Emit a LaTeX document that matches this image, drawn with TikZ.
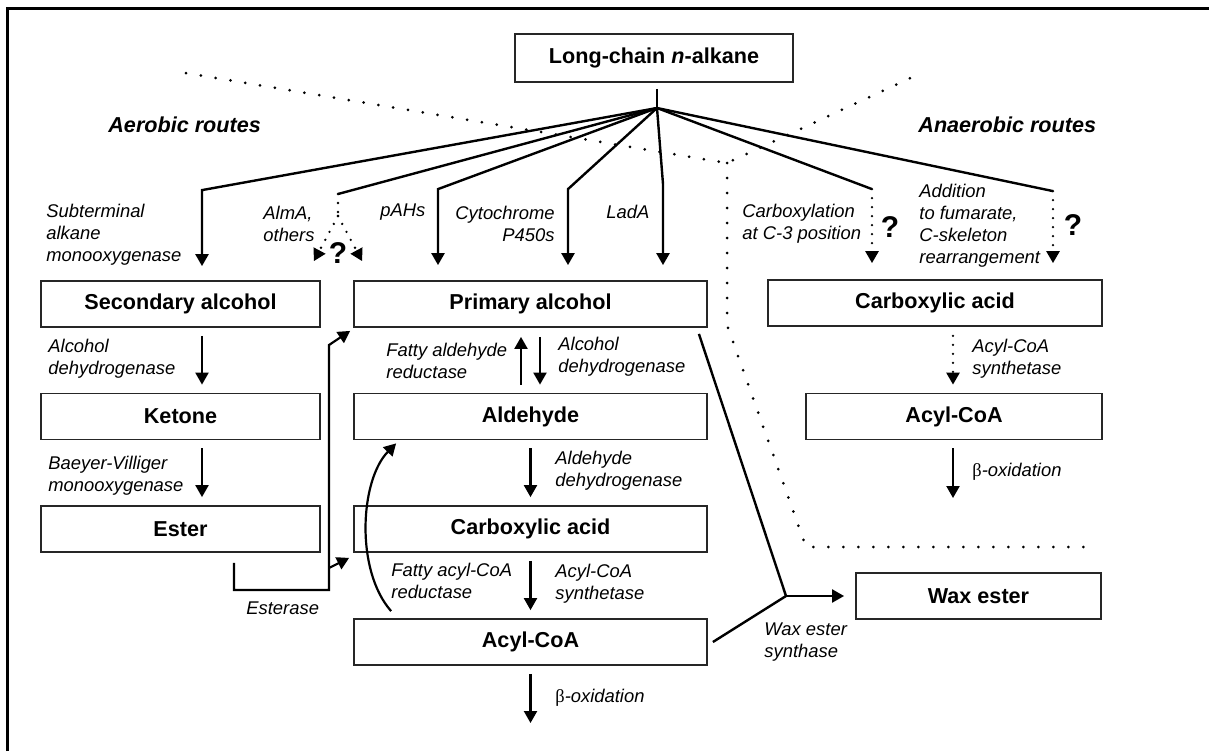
\documentclass[tikz,border=0pt]{standalone}
\usepackage{fontspec}
\setmainfont{Liberation Sans}
\newfontfamily\greekfont{Liberation Serif}
\usetikzlibrary{arrows.meta}

\tikzset{
  compound/.style={draw=black!85, line width=0.9pt, inner sep=0pt, minimum height=23pt,
    font=\bfseries\fontsize{10.8}{13}\selectfont},
  enzyme/.style={inner sep=0pt, anchor=west, align=left, font=\itshape\fontsize{9.2}{11}\selectfont},
  route/.style={inner sep=0pt, anchor=west, font=\bfseries\itshape\fontsize{10.8}{13}\selectfont},
  unknown/.style={inner sep=0pt, font=\bfseries\fontsize{15}{18}\selectfont},
  conv/.style={line width=1.1pt, -{Triangle[length=6pt,width=6.5pt]}},
  branch/.style={line width=1.2pt},
  guess/.style={line width=1.3pt, line cap=round, dash pattern=on 0pt off 4.5pt},
  divide/.style={line width=1.5pt, line cap=round, dash pattern=on 0pt off 7.5pt}
}

\begin{document}
\begin{tikzpicture}[x=0.5pt, y=-0.5pt]
  \useasboundingbox (0,0) rectangle (1209,751);
  \draw[line width=1.5pt] (7,751) -- (7,8) -- (1209,8);

  \node[compound, minimum width=139pt, minimum height=24pt] (alkane) at (654,58) {Long-chain \textit{n}-alkane};

  \node[compound, minimum width=139.5pt] (secalc) at (180.5,304) {Secondary alcohol};
  \node[compound, minimum width=139.5pt] (ketone) at (180.5,416.5) {Ketone};
  \node[compound, minimum width=139.5pt] (ester) at (180.5,529) {Ester};
  \node[compound, minimum width=176.5pt] (primalc) at (530.5,304) {Primary alcohol};
  \node[compound, minimum width=176.5pt] (aldehyde) at (530.5,416.5) {Aldehyde};
  \node[compound, minimum width=176.5pt] (carbacid) at (530.5,529) {Carboxylic acid};
  \node[compound, minimum width=176.5pt] (acylcoa) at (530.5,642) {Acyl-CoA};
  \node[compound, minimum width=122.5pt] (waxester) at (978.5,596) {Wax ester};
  \node[compound, minimum width=167pt] (carbacidR) at (935,303) {Carboxylic acid};
  \node[compound, minimum width=148pt] (acylcoaR) at (954,416.5) {Acyl-CoA};

  \node[route] (aerobic) at (108,125) {Aerobic routes};
  \node[route] (anaerobic) at (918,125) {Anaerobic routes};

  \node[enzyme] (subterm) at (46,235) {Subterminal\\alkane\\monooxygenase};
  \node[enzyme] (alma) at (263,224) {AlmA,\\others};
  \node[enzyme] (pahs) at (380,212) {pAHs};
  \node[enzyme, anchor=east, align=right] (cyp) at (555,224) {Cytochrome\\P450s};
  \node[enzyme] (lada) at (606,212) {LadA};
  \node[enzyme] (carbox) at (742,224) {Carboxylation\\at C-3 position};
  \node[enzyme] (fumarate) at (919,226) {Addition\\to fumarate,\\C-skeleton\\rearrangement};
  \node[enzyme] (adhL) at (48,359) {Alcohol\\dehydrogenase};
  \node[enzyme] (bvmo) at (48,476) {Baeyer-Villiger\\monooxygenase};
  \node[enzyme] (far) at (386,361) {Fatty aldehyde\\reductase};
  \node[enzyme] (adhM) at (558,357) {Alcohol\\dehydrogenase};
  \node[enzyme] (aldh) at (555,471) {Aldehyde\\dehydrogenase};
  \node[enzyme] (facr) at (391,581) {Fatty acyl-CoA\\reductase};
  \node[enzyme] (acsM) at (555,584) {Acyl-CoA\\synthetase};
  \node[enzyme] (betaoxM) at (555,698) {{\greekfont\upshape β}-oxidation};
  \node[enzyme] (esterase) at (246,608) {Esterase};
  \node[enzyme] (acsR) at (972,359) {Acyl-CoA\\synthetase};
  \node[enzyme] (betaoxR) at (972,472) {{\greekfont\upshape β}-oxidation};
  \node[enzyme] (wes) at (764,642) {Wax ester\\synthase};

  \node[unknown] (qalma) at (338,253) {?};
  \node[unknown] (qcarb) at (890,227) {?};
  \node[unknown] (qfum) at (1073,225) {?};

  % fan out of the alkane
  \coordinate (fan) at (657,108);
  \draw[branch] ([shift={(3,6)}]alkane.south) -- (fan);
  \draw[conv, line width=1.2pt] (fan) -- ([shift={(21.5,-90)}]secalc.north) -- ([shift={(21.5,-14)}]secalc.north);
  \draw[conv, line width=1.2pt] (fan) -- ([shift={(-92.5,-91)}]primalc.north) -- ([shift={(-92.5,-15)}]primalc.north);
  \draw[conv, line width=1.2pt] (fan) -- ([shift={(37.5,-91)}]primalc.north) -- ([shift={(37.5,-15)}]primalc.north);
  \draw[conv, line width=1.2pt] (fan) -- ([shift={(132.5,-96)}]primalc.north) -- ([shift={(132.5,-15)}]primalc.north);

  \coordinate (almA) at (338,194);
  \coordinate (almAsplit) at (338,216);
  \draw[branch] (fan) -- (almA);
  \draw[guess] (almA) -- (almAsplit);
  \draw[guess, -{Triangle[length=6pt,width=6.5pt]}] (almAsplit) -- ([shift={(-7,-19)}]secalc.north east);
  \draw[guess, -{Triangle[length=6pt,width=6.5pt]}] (almAsplit) -- ([shift={(9,-19)}]primalc.north west);

  \draw[branch] (fan) -- ([shift={(-63,-90)}]carbacidR.north) coordinate (carbtop);
  \draw[guess, -{Triangle[length=6pt,width=6.5pt]}] (carbtop) -- ([shift={(-63,-16)}]carbacidR.north);
  \draw[branch] (fan) -- ([shift={(118,-88)}]carbacidR.north) coordinate (fumtop);
  \draw[guess, -{Triangle[length=6pt,width=6.5pt]}] (fumtop) -- ([shift={(118,-16)}]carbacidR.north);

  % subterminal route
  \draw[conv] ([shift={(21.5,8)}]secalc.south) -- ([shift={(21.5,-8)}]ketone.north);
  \draw[conv] ([shift={(21.5,8)}]ketone.south) -- ([shift={(21.5,-8)}]ester.north);
  \coordinate (estjoin) at (329,568);
  \draw[conv] ([shift={(53.5,10)}]ester.south) -- ++(0,27) -| (329,345) -- ([shift={(-3,3)}]primalc.south west);
  \draw[conv] (estjoin) -- ([shift={(-4,5)}]carbacid.south west);

  % terminal route
  \draw[conv] ([shift={(-9.5,-8)}]aldehyde.north) -- ([shift={(-9.5,9)}]primalc.south);
  \draw[conv] ([shift={(9.5,9)}]primalc.south) -- ([shift={(9.5,-8)}]aldehyde.north);
  \draw[conv] ([shift={(0,8)}]aldehyde.south) -- ([shift={(0,-8)}]carbacid.north);
  \draw[conv] ([shift={(0,8)}]carbacid.south) -- ([shift={(0,-8)}]acylcoa.north);
  \coordinate (betaM) at (530.5,723);
  \draw[conv] ([shift={(0,8)}]acylcoa.south) -- (betaM);
  \draw[conv] ([shift={(38,-7)}]acylcoa.north west) .. controls (355,570) and (360,480) .. ([shift={(43,3)}]aldehyde.south west);

  \coordinate (waxjoin) at (786,596);
  \draw[branch] ([shift={(-9,6)}]primalc.south east) -- (waxjoin);
  \draw[branch] ([shift={(5,0)}]acylcoa.east) -- (waxjoin);
  \draw[conv] (waxjoin) -- ([shift={(-11,0)}]waxester.west);

  % anaerobic route
  \draw[guess, -{Triangle[length=6pt,width=6.5pt]}] ([shift={(18,9)}]carbacidR.south) -- ([shift={(-1,-8)}]acylcoaR.north);
  \coordinate (betaR) at (953,498);
  \draw[conv] ([shift={(-1,8)}]acylcoaR.south) -- (betaR);

  % border between aerobic and anaerobic
  \draw[divide] (186,73) -- (727,163) -- (917,75);
  \draw[divide] (727,163) -- (727,325) -- (806,547) -- (1090,547);
\end{tikzpicture}
\end{document}
